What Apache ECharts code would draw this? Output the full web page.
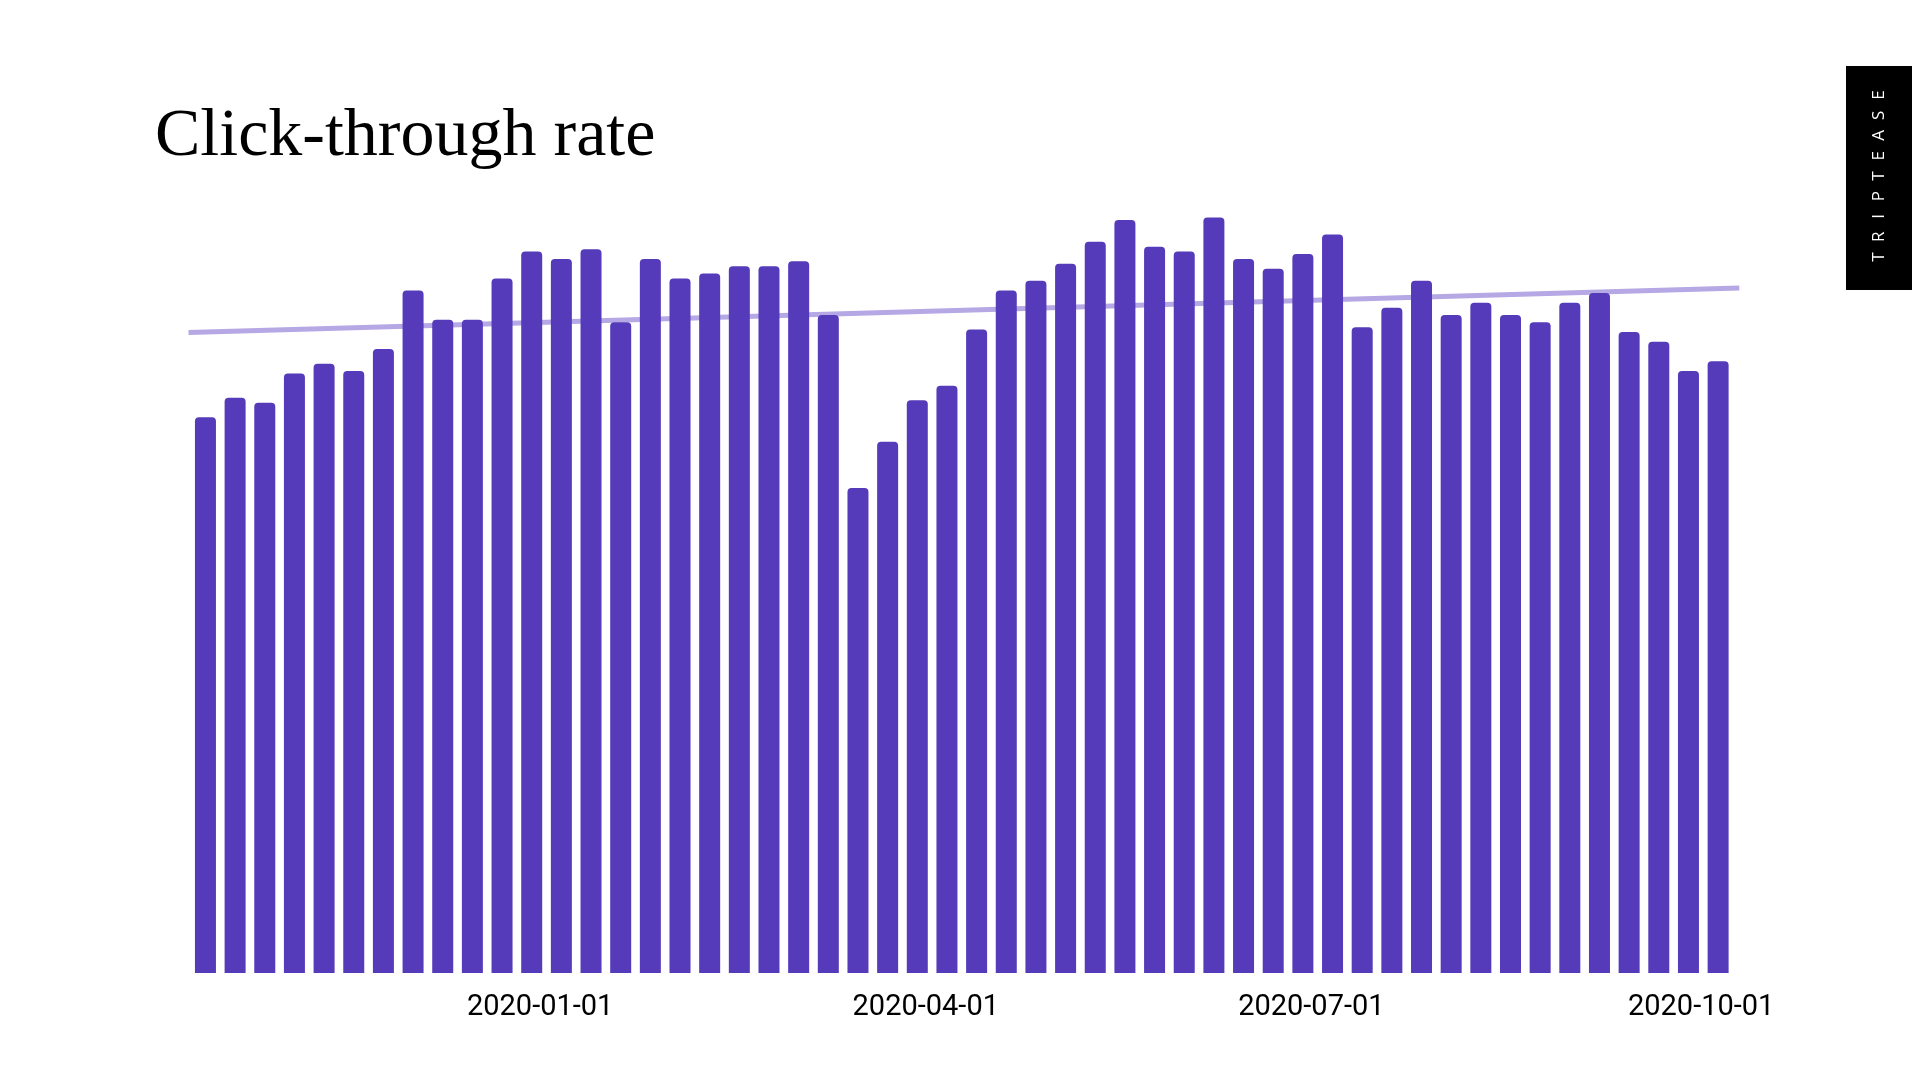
<!DOCTYPE html>
<html>
<head>
<meta charset="utf-8">
<title>Click-through rate</title>
<script src="https://cdn.jsdelivr.net/npm/echarts@6/dist/echarts.min.js"></script>
<style>
  html, body { margin: 0; padding: 0; background: #fff; }
  #chart { width: 1912px; height: 1065px; }
</style>
</head>
<body>
<div id="chart"></div>
<script>
// weekly buckets (week start, Monday)
const weeks = [
  '2019-10-14', '2019-10-21', '2019-10-28', '2019-11-04', '2019-11-11', '2019-11-18',
  '2019-11-25', '2019-12-02', '2019-12-09', '2019-12-16', '2019-12-23', '2019-12-30',
  '2020-01-06', '2020-01-13', '2020-01-20', '2020-01-27', '2020-02-03', '2020-02-10',
  '2020-02-17', '2020-02-24', '2020-03-02', '2020-03-09', '2020-03-16', '2020-03-23',
  '2020-03-30', '2020-04-06', '2020-04-13', '2020-04-20', '2020-04-27', '2020-05-04',
  '2020-05-11', '2020-05-18', '2020-05-25', '2020-06-01', '2020-06-08', '2020-06-15',
  '2020-06-22', '2020-06-29', '2020-07-06', '2020-07-13', '2020-07-20', '2020-07-27',
  '2020-08-03', '2020-08-10', '2020-08-17', '2020-08-24', '2020-08-31', '2020-09-07',
  '2020-09-14', '2020-09-21', '2020-09-28', '2020-10-05'
];

// click-through rate, %
const ctr = [
  2.28, 2.36, 2.34, 2.46, 2.50, 2.47, 2.56, 2.80, 2.68, 2.68, 2.85, 2.96,
  2.93, 2.97, 2.67, 2.93, 2.85, 2.87, 2.90, 2.90, 2.92, 2.70, 1.99, 2.18,
  2.35, 2.41, 2.64, 2.80, 2.84, 2.91, 3.00, 3.09, 2.98, 2.96, 3.10, 2.93,
  2.89, 2.95, 3.03, 2.65, 2.73, 2.84, 2.70, 2.75, 2.70, 2.67, 2.75, 2.79,
  2.63, 2.59, 2.47, 2.51
];

// trend line end points
const trendDates = ['2019-10-10', '2020-10-10'];
const trendValues = [2.628, 2.811];

// x axis labels
const tickDates = ['2020-01-01', '2020-04-01', '2020-07-01', '2020-10-01'];

let chart = echarts.init(document.getElementById('chart'));

// side tab letters
const brand = 'TRIPTEASE';
let tabLetters = brand.split('').map(function (ch, i) {
  return {
    type: 'text',
    x: 1879,
    y: 257 - i * 20.25,
    rotation: Math.PI / 2,
    style: {
      text: ch,
      fill: '#fff',
      font: '17px "Open Sans"',
      align: 'center',
      verticalAlign: 'middle',
      textAlign: 'center',
      textVerticalAlign: 'middle'
    }
  };
});

let option = {
  backgroundColor: '#fff',
  animation: false,
  title: {
    text: 'Click-through rate',
    left: 150,
    top: 98,
    textStyle: {
      fontFamily: '"Liberation Serif", serif',
      fontWeight: 'normal',
      fontSize: 68,
      color: '#000'
    }
  },
  graphic: [
    {
      type: 'rect',
      shape: { x: 1846, y: 66, width: 66, height: 224 },
      style: { fill: '#000' }
    }
  ].concat(tabLetters),
  // bars push the time extent out by half a bar each side, so the grid is wider by one bar
  grid: {
    left: 178,
    right: 162.2,
    top: 120,
    bottom: 92
  },
  xAxis: {
    type: 'time',
    min: '2019-10-10',
    max: '2020-10-10',
    axisLine: { show: false },
    axisTick: { show: false },
    splitLine: { show: false },
    axisLabel: {
      customValues: tickDates.map(function (d) { return echarts.time.parse(d).getTime(); }),
      formatter: '{yyyy}-{MM}-{dd}',
      fontFamily: 'Roboto',
      fontSize: 29,
      color: '#000',
      margin: 20,
      hideOverlap: false
    }
  },
  yAxis: {
    type: 'value',
    show: false,
    min: 0,
    max: 3.5
  },
  series: [
    {
      name: 'Trend',
      type: 'line',
      z: 1,
      symbol: 'none',
      silent: true,
      lineStyle: { color: '#b5a8e4', width: 5 },
      data: trendDates.map(function (d, i) { return [d, trendValues[i]]; })
    },
    {
      name: 'CTR',
      type: 'bar',
      z: 2,
      barWidth: 21,
      itemStyle: {
        color: '#553bb9',
        borderRadius: [4, 4, 0, 0]
      },
      data: weeks.map(function (d, i) { return [d, ctr[i]]; })
    }
  ]
};

chart.setOption(option);
</script>
</body>
</html>
